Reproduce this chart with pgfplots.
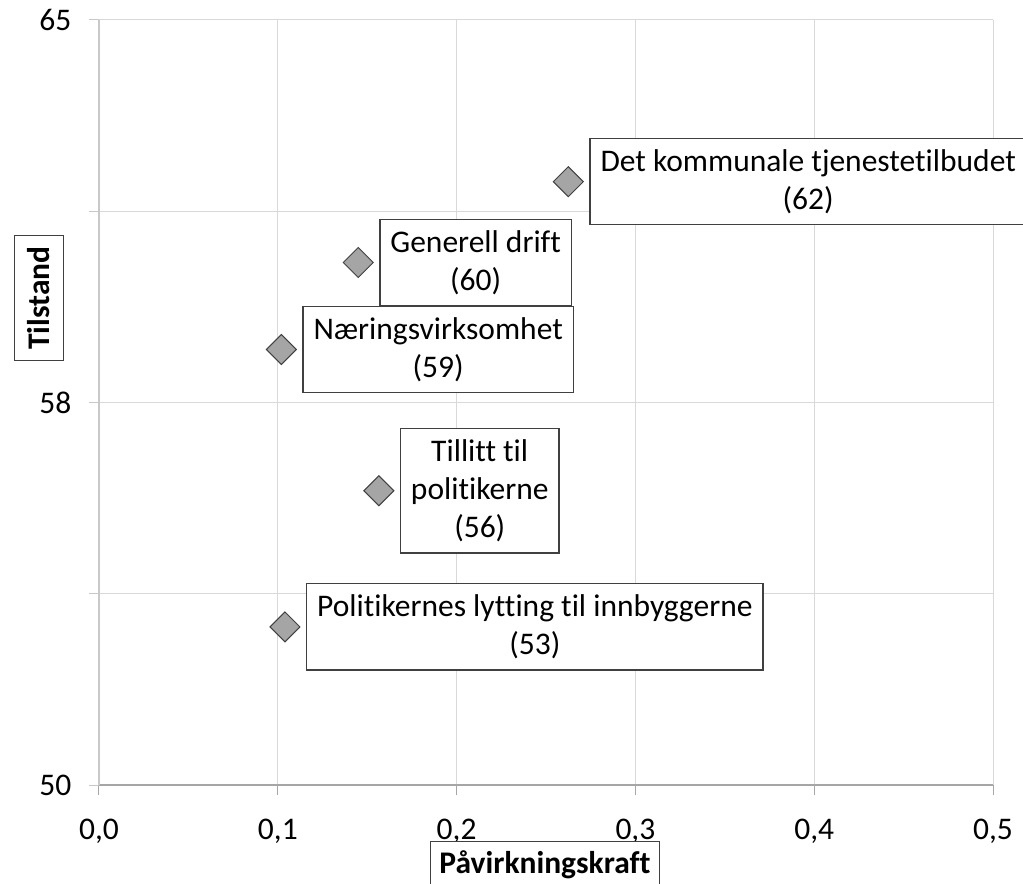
\documentclass[border=0pt]{standalone}
\usepackage{fontspec}
\setmainfont{Carlito}[Ligatures=NoCommon]
\usepackage{pgfplots}
\pgfplotsset{compat=1.18}
\definecolor{gridc}{HTML}{D9D9D9}
\definecolor{axc}{HTML}{A6A6A6}
\definecolor{yaxc}{HTML}{C8C8C8}
\definecolor{mkfill}{HTML}{A5A5A5}
\definecolor{mkdraw}{HTML}{404040}
\newcommand{\fs}{\fontsize{31.5bp}{38bp}\selectfont}
\begin{document}
\fs
\begin{tikzpicture}[
  lbl/.style={draw=mkdraw, line width=1.3bp, fill=white, align=center, anchor=west,
    xshift=21bp, inner xsep=10.5bp, inner ysep=11bp, font=\fs},
]
\begin{axis}[
  name=ax,
  scale only axis, width=894bp, height=765bp,
  xmin=0, xmax=0.5, ymin=50, ymax=65,
  axis x line*=bottom, axis y line*=left,
  xtick={0,0.1,0.2,0.3,0.4,0.5},
  xticklabels={{0,0},{0,1},{0,2},{0,3},{0,4},{0,5}},
  ytick={50,53.75,57.5,61.25,65},
  yticklabels={50,{},58,{},65},
  grid=major, grid style={gridc, line width=1bp},
  tick align=outside, major tick length=10bp,
  x axis line style={axc, line width=1.2bp},
  y axis line style={yaxc, line width=1.2bp},
  xtick style={axc, line width=1bp},
  ytick style={yaxc, line width=1bp},
  ticklabel style={font=\fs},
  yticklabel style={xshift=-7bp},
  xticklabel style={yshift=-13bp},
  clip=false,
]
\addplot[only marks, mark=square*, mark size=10.6bp,
  mark options={rotate=45, fill=mkfill, draw=mkdraw, line width=1bp}]
  coordinates {
  (0.2625,61.83)
  (0.145,60.245)
  (0.102,58.54)
  (0.1565,55.77)
  (0.104,53.10)
  };
\node[lbl] at (axis cs:0.2625,61.83) {Det kommunale tjenestetilbudet\\(62)};
\node[lbl] at (axis cs:0.145,60.245) {Generell drift\\(60)};
\node[lbl] at (axis cs:0.102,58.54) {Næringsvirksomhet\\(59)};
\node[lbl] at (axis cs:0.1565,55.77) {Tillitt til\\politikerne\\(56)};
\node[lbl] at (axis cs:0.104,53.10) {Politikernes lytting til innbyggerne\\(53)};
\end{axis}
\node[draw=mkdraw, line width=1.3bp, fill=white, rotate=90, inner xsep=11bp, inner ysep=13bp,
  font=\fs\bfseries]
  at ([xshift=-60bp,yshift=487bp]ax.south west) {Tilstand};
\node[draw=mkdraw, line width=1.3bp, fill=white, anchor=north, inner xsep=9bp, inner ysep=9bp,
  font=\fs\bfseries]
  at ([xshift=446bp,yshift=-56bp]ax.south west) {Påvirkningskraft};
\pgfresetboundingbox
\path ([xshift=-99bp,yshift=-98bp]ax.south west) rectangle ([xshift=30bp,yshift=20bp]ax.north east);
\end{tikzpicture}
\end{document}
